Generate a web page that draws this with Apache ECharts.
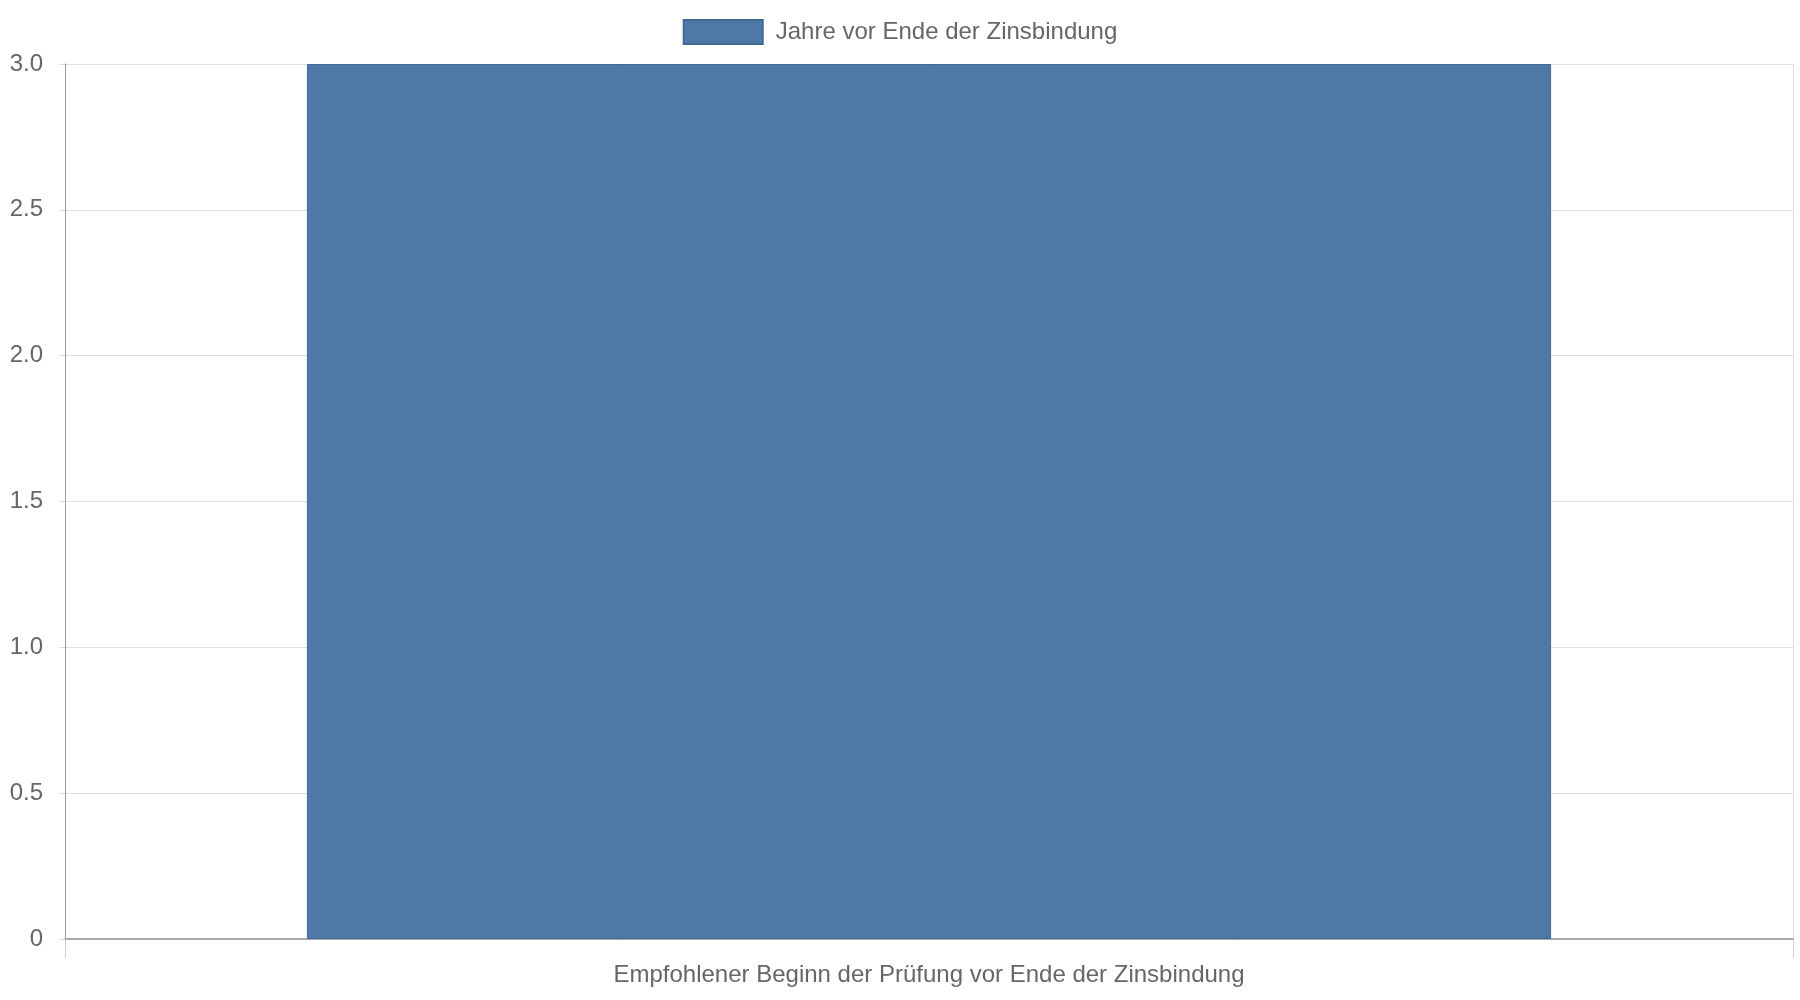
<!DOCTYPE html>
<html>
<head>
<meta charset="utf-8">
<script src="https://cdn.jsdelivr.net/npm/echarts@6/dist/echarts.min.js"></script>
<style>
    html, body { margin: 0; padding: 0; background: #fff; }
    #chart { width: 1800px; height: 1000px; }
</style>
</head>
<body>
<div id="chart"></div>
<script>
// Daten
var categories = ['Empfohlener Beginn der Prüfung vor Ende der Zinsbindung'];
var seriesName = 'Jahre vor Ende der Zinsbindung';
var values = [3];
var yTicks = [0, 0.5, 1.0, 1.5, 2.0, 2.5, 3.0];

var chart = echarts.init(document.getElementById('chart'));

var option = {
    animation: false,
    textStyle: {
        fontFamily: 'Liberation Sans, Arial, sans-serif'
    },
    legend: {
        data: [seriesName],
        top: 14,
        left: 'center',
        icon: 'rect',
        itemWidth: 79,
        itemHeight: 24,
        itemGap: 10,
        textStyle: {
            color: '#666',
            fontSize: 24,
            padding: [0, 0, 0, 8]
        }
    },
    grid: {
        left: 65,
        right: 7,
        top: 64,
        bottom: 61,
        containLabel: false
    },
    xAxis: {
        type: 'category',
        data: categories,
        axisLine: { lineStyle: { color: '#aaa', width: 2 } },
        axisTick: { show: true, length: 19, lineStyle: { color: '#ccc' } },
        axisLabel: { color: '#666', fontSize: 24, margin: 24 },
        splitLine: { show: true, lineStyle: { color: '#ddd' } }
    },
    yAxis: {
        type: 'value',
        min: 0,
        max: yTicks[yTicks.length - 1],
        interval: 0.5,
        axisLine: { show: true, lineStyle: { color: '#999' } },
        axisTick: { show: true, length: 6, lineStyle: { color: '#ddd' } },
        axisLabel: {
            color: '#666',
            fontSize: 24,
            margin: 22,
            formatter: function (v) { return v === 0 ? '0' : v.toFixed(1); }
        },
        splitLine: { show: true, lineStyle: { color: '#ddd' } }
    },
    series: [{
        name: seriesName,
        type: 'bar',
        barWidth: '72%',
        data: values,
        itemStyle: {
            color: '#4e79a7',
            borderColor: '#3f6a97',
            borderWidth: 1
        }
    }]
};

chart.setOption(option);
</script>
</body>
</html>
